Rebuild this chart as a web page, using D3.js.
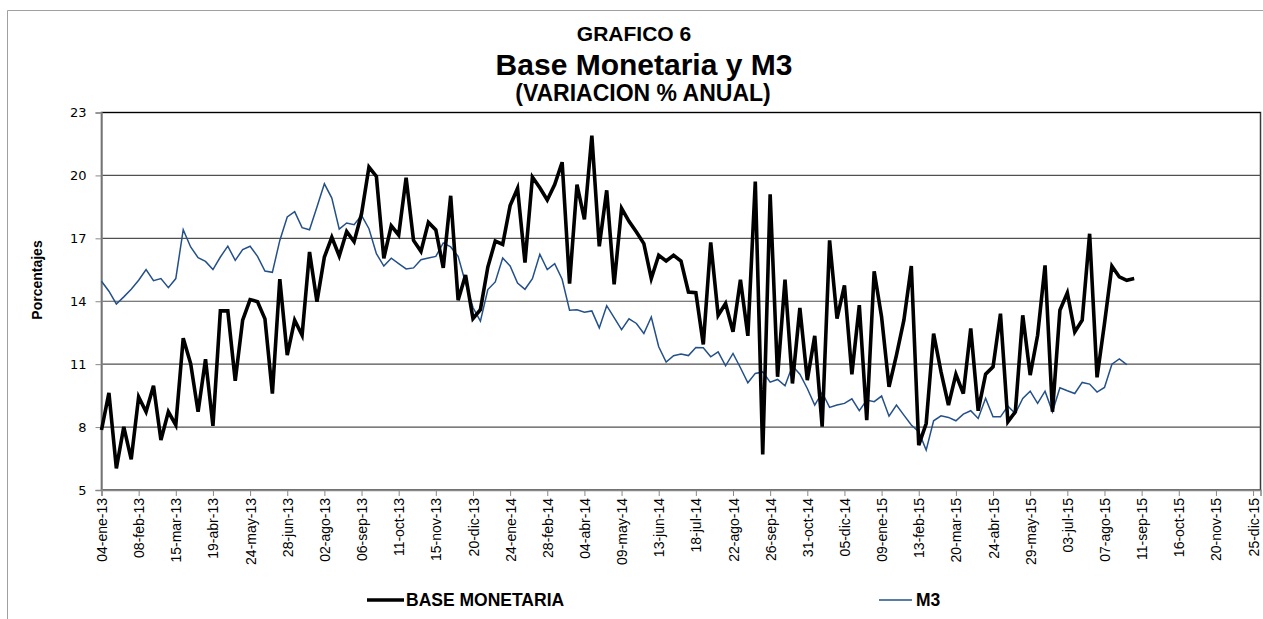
<!DOCTYPE html>
<html>
<head>
<meta charset="utf-8">
<script src="https://cdn.jsdelivr.net/npm/d3@7"></script>
<style>
  body { margin: 0; background: #fff; }
  svg { display: block; }
</style>
</head>
<body>
<div id="chart"></div>
<script>
// weekly observations, first one on 04-ene-13
var baseMonetaria = [
  7.86, 9.63, 6.03, 8.01, 6.46, 9.44, 8.73, 9.97, 7.38, 8.73, 8.1, 12.24, 11.03, 8.73,
  11.24, 8.06, 13.54, 13.54, 10.21, 13.1, 14.08, 13.98, 13.16, 9.6, 15.05, 11.43, 13.1, 12.38,
  16.35, 13.98, 16.11, 17.05, 16.16, 17.33, 16.84, 18.17, 20.4, 19.95, 16.05, 17.6, 17.16, 19.89,
  16.9, 16.38, 17.76, 17.4, 15.59, 19.03, 14.05, 15.25, 13.17, 13.6, 15.63, 16.87, 16.71,
  18.56, 19.38, 15.84, 19.92, 19.41, 18.83, 19.56, 20.63, 14.84, 19.56, 17.9, 21.9, 16.62, 19.29,
  14.81, 18.43, 17.81, 17.3, 16.75, 15.08, 16.19, 15.92, 16.19, 15.92, 14.44, 14.41, 11.94,
  16.81, 13.33, 13.89, 12.54, 15.03, 12.35, 19.71, 6.7, 19.1, 10.4, 15.03, 10.08, 13.68, 10.24,
  12.35, 8.02, 16.9, 13.17, 14.76, 10.52, 13.81, 8.33, 15.43, 13.25, 9.92, 11.43, 13.1,
  15.68, 7.14, 8.17, 12.46, 10.63, 9.05, 10.52, 9.6, 12.7, 8.78, 10.52, 10.87, 13.41, 8.25, 8.73,
  13.33, 10.48, 12.38, 15.71, 8.73, 13.57, 14.4, 12.54, 13.1, 17.22, 10.37, 12.94, 15.67, 15.16,
  15.0, 15.08
];
var m3 = [
  14.95, 14.48, 13.87, 14.21, 14.57, 15.0, 15.51, 14.98, 15.08, 14.65, 15.08, 17.41, 16.59, 16.08,
  15.9, 15.51, 16.11, 16.63, 15.95, 16.46, 16.62, 16.14, 15.44, 15.38, 16.9, 18.02, 18.27, 17.51,
  17.41, 18.49, 19.6, 18.92, 17.44, 17.73, 17.65, 18.1, 17.46, 16.27, 15.68, 16.05, 15.79, 15.54,
  15.59, 15.98, 16.06, 16.14, 16.78, 16.59, 16.14, 14.87, 13.7, 13.05, 14.56, 14.92, 16.06,
  15.68, 14.87, 14.57, 15.08, 16.24, 15.51, 15.79, 15.05, 13.57, 13.59, 13.48, 13.54, 12.73, 13.79,
  13.22, 12.65, 13.16, 12.94, 12.46, 13.25, 11.83, 11.1, 11.4, 11.48, 11.41, 11.79, 11.78,
  11.35, 11.59, 10.92, 11.51, 10.83, 10.11, 10.56, 10.63, 10.14, 10.27, 9.97, 10.92, 10.52, 9.84,
  9.05, 9.65, 8.94, 9.05, 9.13, 9.35, 8.78, 9.29, 9.21, 9.48, 8.52, 9.05, 8.57,
  8.1, 7.78, 6.9, 8.3, 8.54, 8.46, 8.3, 8.62, 8.78, 8.41, 9.37, 8.49, 8.49, 9.0, 8.65,
  9.37, 9.71, 9.13, 9.71, 8.73, 9.87, 9.73, 9.6, 10.13, 10.05, 9.67, 9.89, 11.0, 11.25, 10.98
];
// one label every 5 weeks
var tickLabels = ["04-ene-13","08-feb-13","15-mar-13","19-abr-13","24-may-13","28-jun-13",
  "02-ago-13","06-sep-13","11-oct-13","15-nov-13","20-dic-13","24-ene-14","28-feb-14",
  "04-abr-14","09-may-14","13-jun-14","18-jul-14","22-ago-14","26-sep-14","31-oct-14",
  "05-dic-14","09-ene-15","13-feb-15","20-mar-15","24-abr-15","29-may-15","03-jul-15",
  "07-ago-15","11-sep-15","16-oct-15","20-nov-15","25-dic-15"];
var yTicks = [5, 8, 11, 14, 17, 20, 23];
var nWeeks = 156;

var W = 1263, H = 619;
var margin = {top: 112.5, right: 2.5, bottom: 129, left: 101.5},
    width = W - margin.left - margin.right,
    height = H - margin.top - margin.bottom;

var svg = d3.select("#chart").append("svg")
    .attr("width", W)
    .attr("height", H);

// outer frame (left and top edges only show)
svg.append("path")
    .attr("d", "M7.5,619 V10.5 H1263")
    .attr("fill", "none")
    .attr("stroke", "#a0a0a0")
    .attr("stroke-width", 1);

var title = svg.append("g").attr("font-family", "Liberation Sans, Arial, sans-serif")
    .attr("font-weight", "bold").attr("text-anchor", "middle").attr("fill", "#000");
title.append("text").attr("x", 634).attr("y", 41).attr("font-size", 21).text("GRAFICO 6");
title.append("text").attr("x", 644).attr("y", 75).attr("font-size", 30).text("Base Monetaria y M3");
title.append("text").attr("x", 643).attr("y", 101).attr("font-size", 23).text("(VARIACION % ANUAL)");

var g = svg.append("g")
    .attr("transform", "translate(" + margin.left + "," + margin.top + ")");

var x = d3.scaleLinear().domain([0, nWeeks]).range([0, width]);
var y = d3.scaleLinear().domain([5, 23]).range([height, 0]);

// plot border
g.append("rect")
    .attr("width", width).attr("height", height)
    .attr("fill", "none").attr("stroke", "#3a3a3a").attr("stroke-width", 1.5);

// gridlines
g.append("g")
  .selectAll("line")
  .data(yTicks.slice(1))
  .enter().append("line")
    .attr("x1", 0).attr("x2", width)
    .attr("y1", function(d) { return y(d); })
    .attr("y2", function(d) { return y(d); })
    .attr("stroke", function(d) { return d == 23 ? "#000" : "#505050"; })
    .attr("stroke-width", 1.2);

// y axis
var yAxis = g.append("g")
    .call(d3.axisLeft(y).tickValues(yTicks).tickSize(6).tickPadding(9));
yAxis.select(".domain").attr("stroke", "#888").attr("stroke-width", 1.5);
yAxis.selectAll(".tick line").attr("stroke", "#888");
yAxis.selectAll("text").attr("font-family", "DejaVu Sans, Verdana, sans-serif")
    .attr("font-size", 13).attr("fill", "#000");

// x axis
var xAxis = g.append("g")
    .attr("transform", "translate(0," + height + ")")
    .call(d3.axisBottom(x)
      .tickValues(d3.range(0, nWeeks, 5))
      .tickSize(6)
      .tickFormat(function(d, i) { return tickLabels[i]; }));
xAxis.select(".domain").attr("stroke", "#888").attr("stroke-width", 1.5);
xAxis.selectAll(".tick line").attr("stroke", "#888");
xAxis.selectAll("text")
    .attr("font-family", "Liberation Sans, Arial, sans-serif")
    .attr("font-size", 14).attr("fill", "#000")
    .attr("text-anchor", "end")
    .attr("transform", "translate(0,8) rotate(-90)")
    .attr("x", 0).attr("y", 0).attr("dy", "0.36em");

svg.append("text")
    .attr("transform", "translate(42,280) rotate(-90)")
    .attr("text-anchor", "middle")
    .attr("font-family", "Liberation Sans, Arial, sans-serif")
    .attr("font-weight", "bold").attr("font-size", 14)
    .text("Porcentajes");

var line = d3.line()
    .x(function(d, i) { return x(i); })
    .y(function(d) { return y(d); });

g.append("path")
    .datum(m3)
    .attr("fill", "none")
    .attr("stroke", "#24508a")
    .attr("stroke-width", 1.5)
    .attr("d", line);

g.append("path")
    .datum(baseMonetaria)
    .attr("fill", "none")
    .attr("stroke", "#000")
    .attr("stroke-width", 3.6)
    .attr("stroke-linejoin", "miter")
    .attr("d", line);

// legend
var legend = svg.append("g").attr("font-family", "Liberation Sans, Arial, sans-serif")
    .attr("font-weight", "bold").attr("font-size", 17.5);
legend.append("line").attr("x1", 367).attr("x2", 404).attr("y1", 600).attr("y2", 600)
    .attr("stroke", "#000").attr("stroke-width", 3.6);
legend.append("text").attr("x", 406).attr("y", 606).text("BASE MONETARIA");
legend.append("line").attr("x1", 879).attr("x2", 912).attr("y1", 600).attr("y2", 600)
    .attr("stroke", "#24508a").attr("stroke-width", 1.5);
legend.append("text").attr("x", 916).attr("y", 606).text("M3");
</script>
</body>
</html>
